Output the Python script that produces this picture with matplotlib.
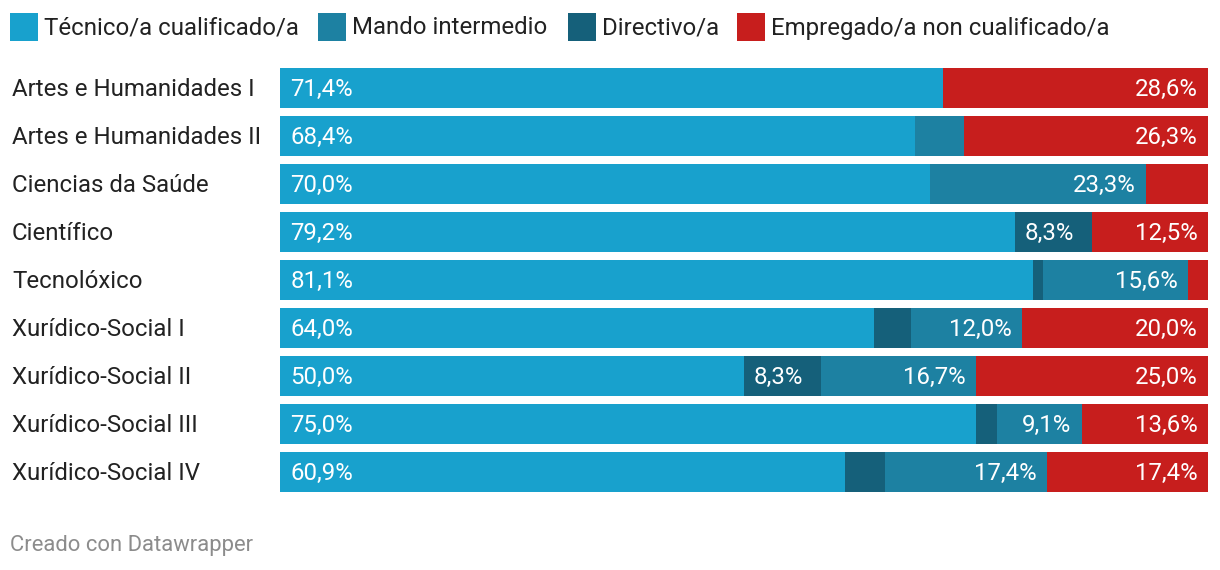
import matplotlib
matplotlib.use("Agg")
from matplotlib import pyplot as plt
from matplotlib.patches import Rectangle

plt.rcParams['font.family'] = ['Roboto', 'DejaVu Sans']

categories = ['Artes e Humanidades I', 'Artes e Humanidades II', 'Ciencias da Saúde',
              'Científico', 'Tecnolóxico', 'Xurídico-Social I', 'Xurídico-Social II',
              'Xurídico-Social III', 'Xurídico-Social IV']

tecnico = [71.4, 68.4, 70.0, 79.2, 81.1, 64.0, 50.0, 75.0, 60.9]
directivo = [0.0, 0.0, 0.0, 8.3, 1.1, 4.0, 8.3, 2.3, 4.3]
mando = [0.0, 5.3, 23.3, 0.0, 15.6, 12.0, 16.7, 9.1, 17.4]
empregado = [28.6, 26.3, 6.7, 12.5, 2.2, 20.0, 25.0, 13.6, 17.4]

legend_names = ['Técnico/a cualificado/a', 'Mando intermedio', 'Directivo/a',
                'Empregado/a non cualificado/a']
c_tec, c_mando, c_dir, c_emp = '#18a1cd', '#1d81a2', '#15607a', '#c71e1d'

W, H = 1220, 570
fig = plt.figure(figsize=(W / 100, H / 100), dpi=100)
ax = fig.add_axes([280 / W, (H - 496) / H, 928 / W, 432 / H])

fs = 17.3
dy = 0.04  # nudge text down a touch so it sits centred on the bars
ys = list(range(len(categories)))
bh = 40 / 48
# stacking order in the bars: tecnico, directivo, mando, empregado
series = [(tecnico, c_tec, 'left'), (directivo, c_dir, 'center'),
          (mando, c_mando, 'right'), (empregado, c_emp, 'right')]
left = [0.0] * len(categories)
for vals, col, align in series:
    ax.barh(ys, vals, left=left, height=bh, color=col, linewidth=0)
    for i, v in enumerate(vals):
        if v >= 8:
            txt = f'{v:.1f}%'.replace('.', ',')
            if align == 'left':
                x = left[i] + 1.1
            elif align == 'center':
                x = left[i] + v / 2 - 0.4
            else:
                x = left[i] + v - 1.1
            ax.text(x, i + dy, txt, ha=align, va='center', color='white', fontsize=fs)
    left = [l + v for l, v in zip(left, vals)]

ax.set_xlim(0, 100)
ax.set_ylim(len(categories) - 0.5, -0.5)
ax.axis('off')

for i, name in enumerate(categories):
    ax.text(-268 / 928 * 100, i + dy, name, ha='left', va='center',
            color='#222222', fontsize=fs)

# legend
leg_x = [10, 318, 568, 737]
leg_cols = [c_tec, c_mando, c_dir, c_emp]
for x0, name, col in zip(leg_x, legend_names, leg_cols):
    fig.patches.append(Rectangle((x0 / W, (H - 41) / H), 28 / W, 28 / H,
                                 transform=fig.transFigure, color=col, linewidth=0))
    fig.text((x0 + 34) / W, (H - 28) / H, name, ha='left', va='center',
             color='#222222', fontsize=fs)

fig.text(10 / W, (H - 545) / H, 'Creado con Datawrapper', ha='left', va='center',
         color='#8c8c8c', fontsize=15.8)

fig.savefig('out.png', dpi=100, facecolor='white')
